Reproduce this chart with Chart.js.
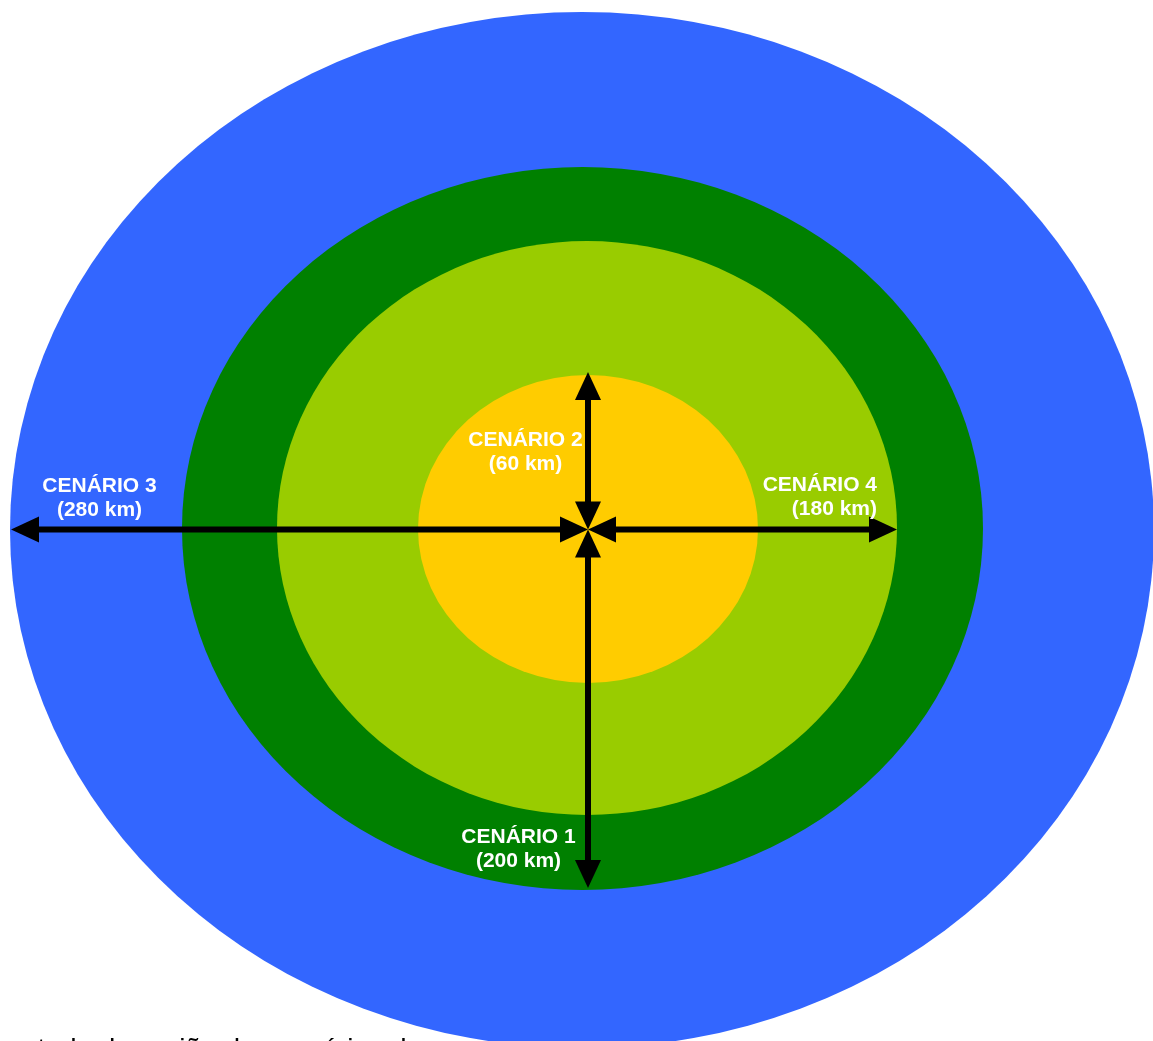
<!DOCTYPE html>
<html lang="pt">
<head>
<meta charset="utf-8">
<title>Cenários</title>
<script src="https://cdn.jsdelivr.net/npm/chart.js@4/dist/chart.umd.min.js"></script>
<style>
  html, body { margin: 0; padding: 0; background: #fff; overflow: hidden; }
  #wrap { width: 1153px; height: 1041px; position: relative; }
  #caption {
    position: absolute; left: 8px; top: 1033px; white-space: nowrap;
    font: 28px "Liberation Sans", Arial, sans-serif; color: #000;
  }
</style>
</head>
<body>
<div id="wrap">
  <canvas id="chart" width="1153" height="1041"></canvas>
  <div id="caption">estudo da região dos cenários de</div>
</div>
<script>
// zones, outer to inner (axis units)
const ZONES = ["Cenário 3", "Cenário 1", "Cenário 4", "Cenário 2"];
const ZONE_COLORS = ["#3366FF", "#008000", "#99CC00", "#FFCC00"];
const zoneCx = [582, 582.5, 587, 588];
const zoneCy = [530, 528.5, 528, 529];
const zoneRx = [572, 400.5, 310, 170];
const zoneRy = [518, 361.5, 287, 154];

// arrows: from the common centre out to each zone edge
const ORIGIN = { x: 588, y: 529.5 };
const arrowEndX = [588, 11, 897, 588];
const arrowEndY = [888, 529.5, 529.5, 372];

// labels
const labelLines = [
  ["CENÁRIO 1", "(200 km)"],
  ["CENÁRIO 3", "(280 km)"],
  ["CENÁRIO 4", "(180 km)"],
  ["CENÁRIO 2", "(60 km)"],
];
const labelX = [518.5, 99.5, 877, 525.5];
const labelY = [843, 492, 491, 446];
const labelAlign = ["center", "center", "right", "center"];

const HEAD_LEN = 28;
const HEAD_HALF = 13;

const ellipsePlugin = {
  id: "ellipses",
  beforeDatasetsDraw(chart) {
    const { ctx, scales } = chart;
    const x = scales.x, y = scales.y;
    ctx.save();
    ZONES.forEach((z, i) => {
      const cx = x.getPixelForValue(zoneCx[i]);
      const cy = y.getPixelForValue(zoneCy[i]);
      const rx = Math.abs(x.getPixelForValue(zoneCx[i] + zoneRx[i]) - cx);
      const ry = Math.abs(y.getPixelForValue(zoneCy[i] + zoneRy[i]) - cy);
      ctx.beginPath();
      ctx.ellipse(cx, cy, rx, ry, 0, 0, Math.PI * 2);
      ctx.fillStyle = ZONE_COLORS[i];
      ctx.fill();
    });
    ctx.restore();
  },
};

function drawHead(ctx, tip, from) {
  const ang = Math.atan2(tip.y - from.y, tip.x - from.x);
  const bx = tip.x - Math.cos(ang) * HEAD_LEN;
  const by = tip.y - Math.sin(ang) * HEAD_LEN;
  const nx = -Math.sin(ang) * HEAD_HALF;
  const ny = Math.cos(ang) * HEAD_HALF;
  ctx.beginPath();
  ctx.moveTo(tip.x, tip.y);
  ctx.lineTo(bx + nx, by + ny);
  ctx.lineTo(bx - nx, by - ny);
  ctx.closePath();
  ctx.fill();
}

// shafts stop at the head base, heads at both ends
const arrowPlugin = {
  id: "arrows",
  afterDatasetsDraw(chart) {
    const ctx = chart.ctx;
    ctx.save();
    ctx.fillStyle = "#000";
    ctx.strokeStyle = "#000";
    ctx.lineWidth = 6;
    chart.data.datasets.forEach((ds, i) => {
      const pts = chart.getDatasetMeta(i).data;
      if (pts.length < 2) return;
      const a = { x: pts[0].x, y: pts[0].y };
      const b = { x: pts[1].x, y: pts[1].y };
      const len = Math.hypot(b.x - a.x, b.y - a.y);
      const ux = (b.x - a.x) / len, uy = (b.y - a.y) / len;
      ctx.beginPath();
      ctx.moveTo(a.x + ux * (HEAD_LEN - 2), a.y + uy * (HEAD_LEN - 2));
      ctx.lineTo(b.x - ux * (HEAD_LEN - 2), b.y - uy * (HEAD_LEN - 2));
      ctx.stroke();
      drawHead(ctx, a, b);
      drawHead(ctx, b, a);
    });
    ctx.restore();
  },
};

const labelPlugin = {
  id: "labels",
  afterDraw(chart) {
    const { ctx, scales } = chart;
    ctx.save();
    ctx.fillStyle = "#fff";
    ctx.font = 'bold 21px "Liberation Sans", Arial, sans-serif';
    ctx.textBaseline = "alphabetic";
    labelLines.forEach((lines, i) => {
      ctx.textAlign = labelAlign[i];
      const px = scales.x.getPixelForValue(labelX[i]);
      const py = scales.y.getPixelForValue(labelY[i]);
      lines.forEach((t, j) => ctx.fillText(t, px, py + j * 24));
    });
    ctx.restore();
  },
};

const datasets = ZONES.map((z, i) => ({
  label: z,
  data: [ORIGIN, { x: arrowEndX[i], y: arrowEndY[i] }],
  showLine: false,
  pointRadius: 0,
}));

new Chart(document.getElementById("chart"), {
  type: "scatter",
  data: { datasets },
  options: {
    animation: false,
    responsive: false,
    layout: { padding: 0 },
    scales: {
      x: { type: "linear", min: 0, max: 1153, display: false },
      y: { type: "linear", min: 0, max: 1041, reverse: true, display: false },
    },
    plugins: {
      legend: { display: false },
      tooltip: { enabled: false },
    },
  },
  plugins: [ellipsePlugin, arrowPlugin, labelPlugin],
});
</script>
</body>
</html>
